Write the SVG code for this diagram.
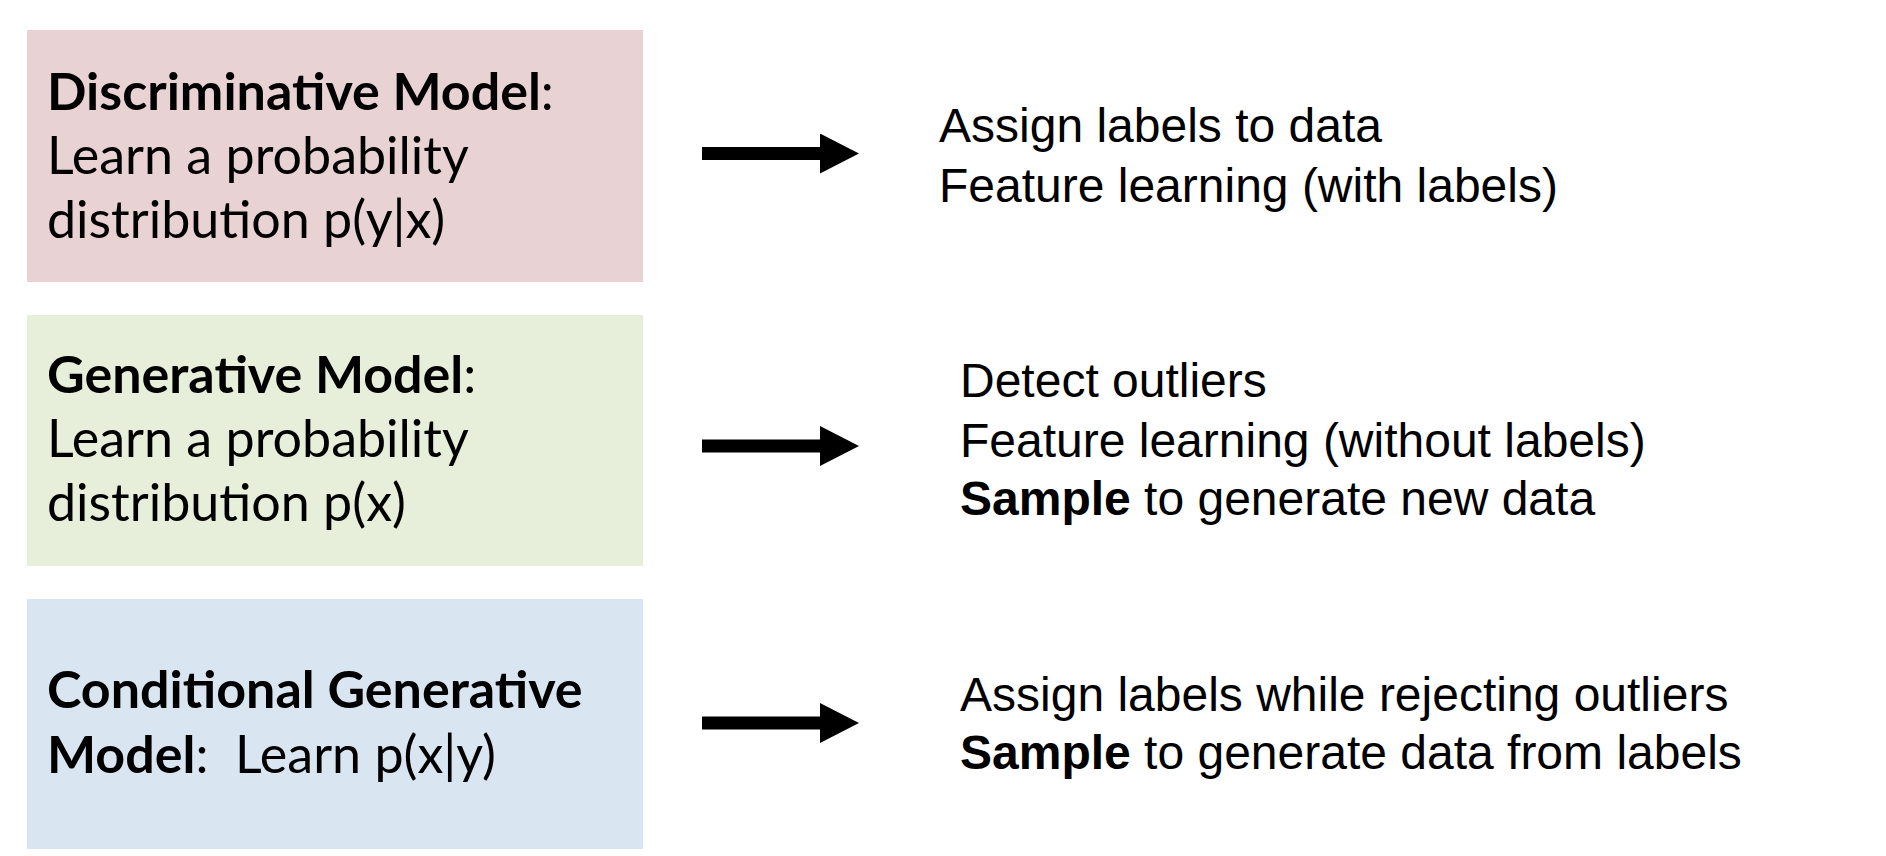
<svg xmlns="http://www.w3.org/2000/svg" width="1886" height="856" viewBox="0 0 1886 856">
<style>
.box{stroke:none}
.lt{font-family:Lato,"Noto Sans",sans-serif;font-size:52px;fill:#000}
.b{font-weight:bold}
.rt{font-family:"Liberation Sans",Arial,sans-serif;font-size:48px;fill:#000}
.shaft{stroke:#000;stroke-width:13;fill:none}
</style>
<defs>
<marker id="ah" markerUnits="userSpaceOnUse" markerWidth="40" markerHeight="40" refX="0" refY="20" orient="auto" viewBox="0 0 40 40">
<path d="M0,0 L39,20 L0,40 Z" fill="#000"/>
</marker>
</defs>
<rect width="1886" height="856" fill="#fff"/>
<g id="node-discriminative">
<rect class="box" x="27" y="30" width="616" height="252" fill="#E9D2D3"/>
<text class="lt" x="47" y="110"><tspan class="b">Discriminative Model</tspan>:</text>
<text class="lt" x="47" y="174">Learn a probability</text>
<text class="lt" x="47" y="238">distribution p(y|x)</text>
</g>
<g id="node-generative">
<rect class="box" x="27" y="315" width="616" height="251" fill="#E7EEDA"/>
<text class="lt" x="47" y="393"><tspan class="b">Generative Model</tspan>:</text>
<text class="lt" x="47" y="457">Learn a probability</text>
<text class="lt" x="47" y="521">distribution p(x)</text>
</g>
<g id="node-conditional">
<rect class="box" x="27" y="599" width="616" height="250" fill="#D9E5F0"/>
<text class="lt" x="47" y="708"><tspan class="b">Conditional Generative</tspan></text>
<text class="lt" x="47" y="773" xml:space="preserve"><tspan class="b">Model</tspan>:  Learn p(x|y)</text>
</g>
<g id="connectors">
<line class="shaft" x1="702" y1="153.5" x2="820" y2="153.5" marker-end="url(#ah)"/>
<line class="shaft" x1="702" y1="446" x2="820" y2="446" marker-end="url(#ah)"/>
<line class="shaft" x1="702" y1="723" x2="820" y2="723" marker-end="url(#ah)"/>
</g>
<g id="out-discriminative">
<text class="rt" x="939" y="142">Assign labels to data</text>
<text class="rt" x="939" y="202">Feature learning (with labels)</text>
</g>
<g id="out-generative">
<text class="rt" x="960" y="397">Detect outliers</text>
<text class="rt" x="960" y="457">Feature learning (without labels)</text>
<text class="rt" x="960" y="515"><tspan class="b">Sample</tspan> to generate new data</text>
</g>
<g id="out-conditional">
<text class="rt" x="960" y="711">Assign labels while rejecting outliers</text>
<text class="rt" x="960" y="769"><tspan class="b">Sample</tspan> to generate data from labels</text>
</g>
</svg>
